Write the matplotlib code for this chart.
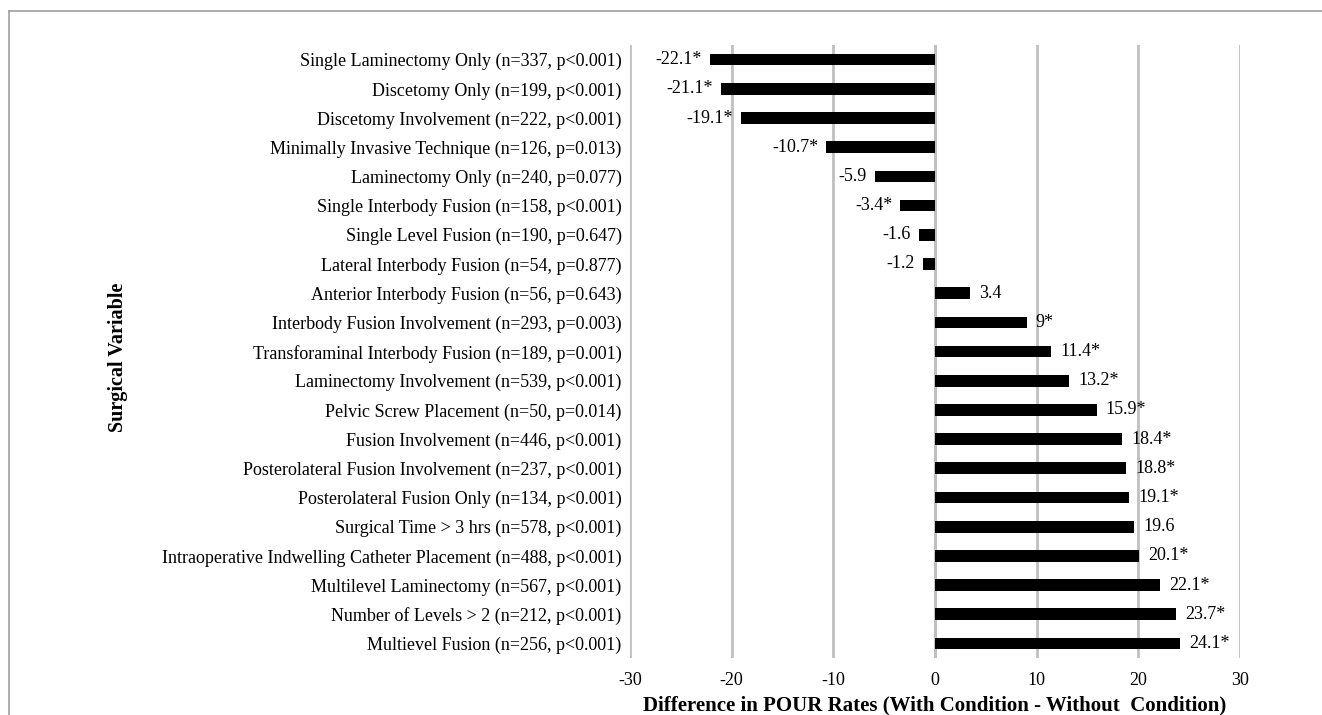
import matplotlib.pyplot as plt
import numpy as np

plt.rcParams['font.family'] = ['Liberation Serif', 'DejaVu Serif']

categories = [
    "Single Laminectomy Only (n=337, p<0.001)",
    "Discetomy Only (n=199, p<0.001)",
    "Discetomy Involvement (n=222, p<0.001)",
    "Minimally Invasive Technique (n=126, p=0.013)",
    "Laminectomy Only (n=240, p=0.077)",
    "Single Interbody Fusion (n=158, p<0.001)",
    "Single Level Fusion (n=190, p=0.647)",
    "Lateral Interbody Fusion (n=54, p=0.877)",
    "Anterior Interbody Fusion (n=56, p=0.643)",
    "Interbody Fusion Involvement (n=293, p=0.003)",
    "Transforaminal Interbody Fusion (n=189, p=0.001)",
    "Laminectomy Involvement (n=539, p<0.001)",
    "Pelvic Screw Placement (n=50, p=0.014)",
    "Fusion Involvement (n=446, p<0.001)",
    "Posterolateral Fusion Involvement (n=237, p<0.001)",
    "Posterolateral Fusion Only (n=134, p<0.001)",
    "Surgical Time > 3 hrs (n=578, p<0.001)",
    "Intraoperative Indwelling Catheter Placement (n=488, p<0.001)",
    "Multilevel Laminectomy (n=567, p<0.001)",
    "Number of Levels > 2 (n=212, p<0.001)",
    "Multievel Fusion (n=256, p<0.001)",
]
values = [-22.1, -21.1, -19.1, -10.7, -5.9, -3.4, -1.6, -1.2, 3.4, 9, 11.4,
          13.2, 15.9, 18.4, 18.8, 19.1, 19.6, 20.1, 22.1, 23.7, 24.1]
labels = ["-22.1*", "-21.1*", "-19.1*", "-10.7*", "-5.9", "-3.4*", "-1.6", "-1.2",
          "3.4", "9*", "11.4*", "13.2*", "15.9*", "18.4*", "18.8*", "19.1*",
          "19.6", "20.1*", "22.1*", "23.7*", "24.1*"]
xticks = [-30, -20, -10, 0, 10, 20, 30]

fig = plt.figure(figsize=(13.22, 7.15), dpi=100)
ax = fig.add_axes([0.4766, 0.0797, 0.4614, 0.8573])

y = np.arange(len(categories))
ax.barh(y, values, height=0.4, color='black', zorder=3)
for yi, v, lab in zip(y, values, labels):
    if v < 0:
        ax.text(v - 0.8, yi, lab, ha='right', va='center', fontsize=13)
    else:
        ax.text(v + 0.9, yi, lab, ha='left', va='center', fontsize=13)

ax.set_xlim(-30, 30)
ax.set_ylim(len(categories) - 0.5, -0.5)
ax.set_xticks(xticks)
ax.set_xticklabels([str(t) for t in xticks], fontsize=13)
ax.set_yticks(y)
ax.set_yticklabels(categories, fontsize=13)
ax.tick_params(length=0, axis='both')
ax.tick_params(axis='x', pad=10)
ax.tick_params(axis='y', pad=6)
ax.grid(axis='x', color='#c0c0c0', linewidth=2, zorder=0)
ax.axvline(0, color='#c0c0c0', linewidth=2, zorder=1)
for s in ax.spines.values():
    s.set_visible(False)

ax.set_xlabel("Difference in POUR Rates (With Condition - Without  Condition)",
              fontsize=15, fontweight='bold', labelpad=5)
fig.text(0.089, 0.5, "Surgical Variable", rotation=90, ha='center', va='center',
         fontsize=14.5, fontweight='bold')

# outer frame lines
fig.add_artist(plt.Line2D([9 / 1322, 1], [1 - 11 / 715, 1 - 11 / 715],
                          color='#a0a0a0', linewidth=1.2))
fig.add_artist(plt.Line2D([9 / 1322, 9 / 1322], [0, 1 - 11 / 715],
                          color='#a0a0a0', linewidth=1.2))

fig.savefig('out.png', dpi=100)
